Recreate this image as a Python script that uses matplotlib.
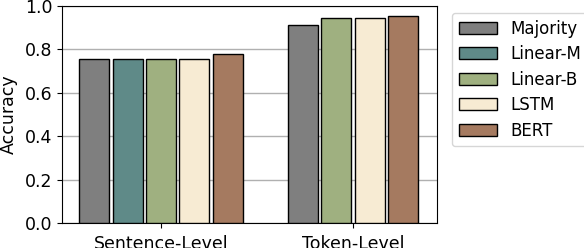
import numpy as np
import matplotlib.pyplot as plt

plt.rcParams['font.family'] = ['DejaVu Sans']
plt.rcParams['font.size'] = 12.5

groups = ['Sentence-Level', 'Token-Level']
models = ['Majority', 'Linear-M', 'Linear-B', 'LSTM', 'BERT']
colors = ['#7f7f7f', '#5f8a88', '#9fb080', '#f7ebd3', '#a57a60']

# Linear-M has no token-level result
scores = {
    'Majority': [0.755, 0.912],
    'Linear-M': [0.755, np.nan],
    'Linear-B': [0.755, 0.944],
    'LSTM': [0.755, 0.945],
    'BERT': [0.778, 0.956],
}

fig = plt.figure(figsize=(5.84, 2.48), dpi=100)
ax = fig.add_axes([0.106, 0.1008, 0.642, 0.875])

width = 0.156
step = 0.174

ax.yaxis.grid(True, color='#b0b0b0', linewidth=1.0, zorder=0)
ax.set_axisbelow(True)

handles = {}
for g in range(len(groups)):
    present = [m for m in models if not np.isnan(scores[m][g])]
    n = len(present)
    for i, m in enumerate(present):
        x = g + (i - (n - 1) / 2) * step
        b = ax.bar(x, scores[m][g], width, color=colors[models.index(m)],
                   edgecolor='black', linewidth=1.0, zorder=3)
        handles[m] = b

ax.set_xticks(range(len(groups)))
ax.set_xticklabels(groups)
ax.tick_params(axis='x', pad=5)
ax.set_xlim(-0.516, 1.4375)
ax.set_ylim(0, 1.0)
ax.set_yticks([0, 0.2, 0.4, 0.6, 0.8, 1.0])
ax.set_ylabel('Accuracy', labelpad=5)

fig.legend([handles[m] for m in models], models, loc='upper left',
           bbox_to_anchor=(452 / 584, 1 - 13 / 248), borderaxespad=0,
           fontsize=12, handlelength=2.3, handleheight=0.75, labelspacing=0.45)

fig.savefig('out.png', dpi=100)
